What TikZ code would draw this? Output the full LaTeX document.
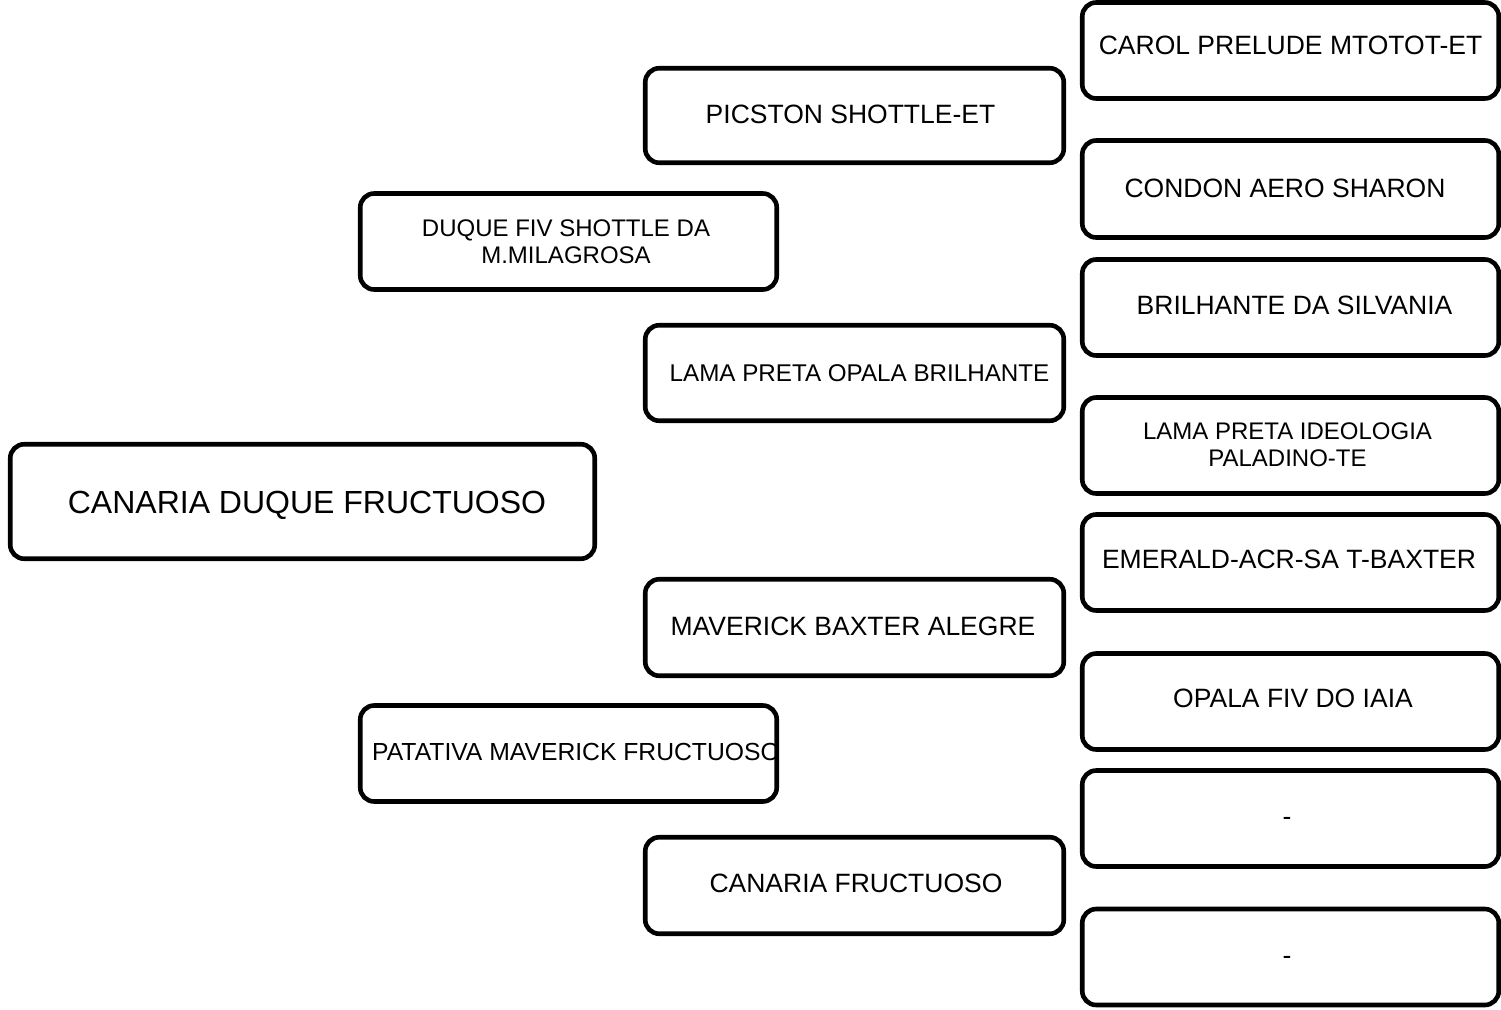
\documentclass[tikz,border=0pt]{standalone}
\usepackage{fontspec}
\setmainfont{Liberation Sans}
\begin{document}
\begin{tikzpicture}[x=1pt,y=-1pt,
  box/.style={draw=black, line width=4.6pt, rounded corners=14pt, inner sep=0pt, minimum width=416.5pt, minimum height=96pt},
  big/.style={font=\fontsize{32}{36}\selectfont, inner sep=0pt, anchor=base},
  mid/.style={font=\fontsize{26.5}{30}\selectfont, inner sep=0pt, anchor=base},
  sml/.style={font=\fontsize{24.2}{27}\selectfont, inner sep=0pt, anchor=base},
  two/.style={font=\fontsize{24}{26.8}\selectfont, inner sep=0pt, align=center, anchor=center}]
\useasboundingbox[fill=white] (0,0) rectangle (1501,1009);
% generation 0
\node[big] (t0) at (307,513.5) {CANARIA DUQUE FRUCTUOSO};
\node[box, minimum width=584.5pt, minimum height=114.5pt] (b0) at (302.5,501.5) {};
% generation 1
\node[two] (t1) at (566,241.5) {DUQUE FIV SHOTTLE DA\\M.MILAGROSA};
\node[box] (b1) at (568.5,241.5) {};
\node[sml, font=\fontsize{24.7}{27}\selectfont, anchor=base west] (t2) at (372,760.6) {PATATIVA MAVERICK FRUCTUOSO};
\node[box] (b2) at (568.5,753.5) {};
% generation 2
\node[mid] (t3) at (850.5,123.5) {PICSTON SHOTTLE-ET};
\node[box, minimum width=418.5pt, minimum height=94.5pt] (b3) at (854.5,115.5) {};
\node[sml] (t4) at (859.5,381.6) {LAMA PRETA OPALA BRILHANTE};
\node[box, minimum width=418.5pt, minimum height=95.5pt] (b4) at (854.5,373) {};
\node[mid] (t5) at (853,635.5) {MAVERICK BAXTER ALEGRE};
\node[box, minimum width=418.5pt, minimum height=96.5pt] (b5) at (854.5,627.5) {};
\node[mid] (t6) at (856,892.5) {CANARIA FRUCTUOSO};
\node[box, minimum width=418.5pt, minimum height=96.5pt] (b6) at (854.5,885.5) {};
% generation 3
\node[mid] (t7) at (1290.5,54.5) {CAROL PRELUDE MTOTOT-ET};
\node[box] (b7) at (1290.5,50.5) {};
\node[mid] (t8) at (1285,197.5) {CONDON AERO SHARON};
\node[box, minimum height=97pt] (b8) at (1290.5,189) {};
\node[mid] (t9) at (1294.5,314) {BRILHANTE DA SILVANIA};
\node[box] (b9) at (1290.5,307.5) {};
\node[two] (t10) at (1287.5,445) {LAMA PRETA IDEOLOGIA\\PALADINO-TE};
\node[box] (b10) at (1290.5,445.5) {};
\node[mid] (t11) at (1289,568.5) {EMERALD-ACR-SA T-BAXTER};
\node[box] (b11) at (1290.5,562.5) {};
\node[mid] (t12) at (1293,707.5) {OPALA FIV DO IAIA};
\node[box] (b12) at (1290.5,701.5) {};
\node[mid] (t13) at (1287,825.5) {-};
\node[box] (b13) at (1290.5,818.5) {};
\node[mid] (t14) at (1287,964.5) {-};
\node[box] (b14) at (1290.5,957) {};
\end{tikzpicture}
\end{document}
